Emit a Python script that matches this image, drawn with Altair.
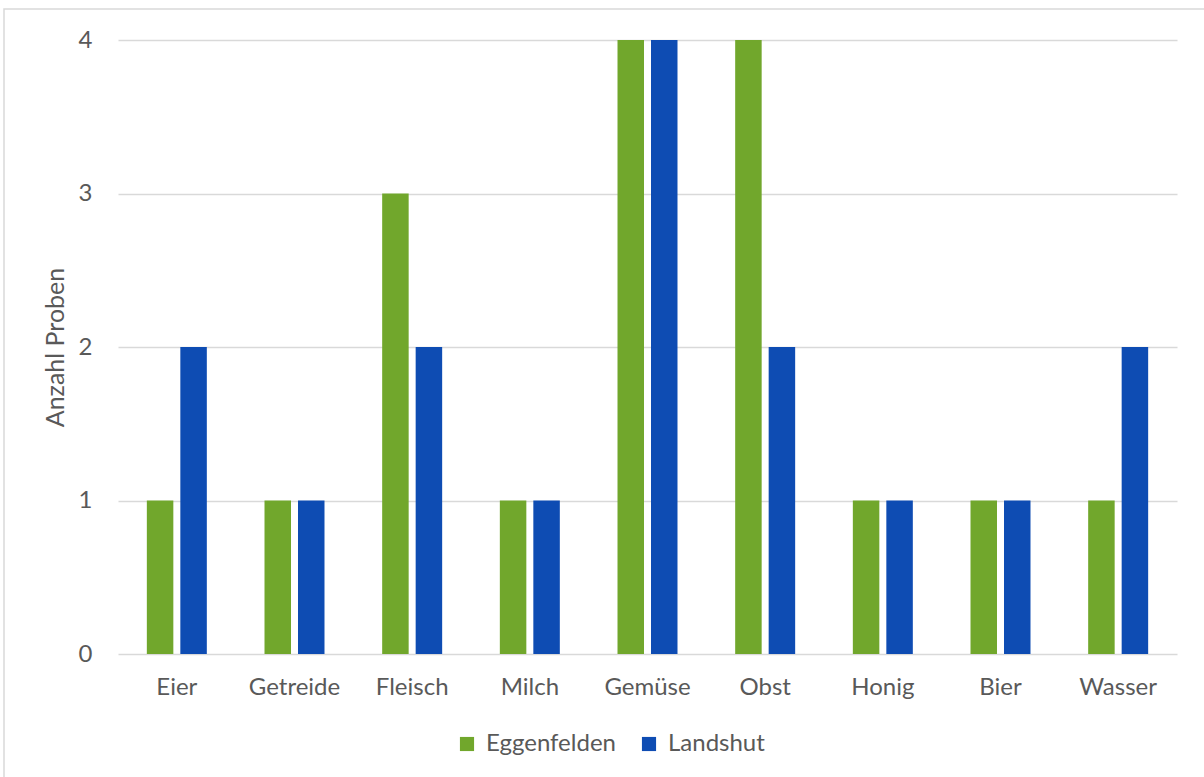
import altair as alt
import pandas as pd

categories = ["Eier", "Getreide", "Fleisch", "Milch", "Gemüse", "Obst", "Honig", "Bier", "Wasser"]
eggenfelden = [1, 1, 3, 1, 4, 4, 1, 1, 1]
landshut = [2, 1, 2, 1, 4, 2, 1, 1, 2]
series = ["Eggenfelden", "Landshut"]
colors = ["#71a72c", "#0e4cb3"]

rows = []
for c, e, l in zip(categories, eggenfelden, landshut):
    rows.append({"Kategorie": c, "Ort": series[0], "Anzahl": e})
    rows.append({"Kategorie": c, "Ort": series[1], "Anzahl": l})
df = pd.DataFrame(rows)

FONT = "Lato"
TXT = "#595959"
FS = 24

bars = alt.Chart(df).mark_bar().encode(
    x=alt.X("Kategorie:N", sort=categories,
            scale=alt.Scale(paddingInner=0, paddingOuter=0),
            axis=alt.Axis(title=None, labelAngle=0, ticks=False, domain=False, grid=False,
                          labelPadding=21, labelFontSize=FS, labelColor=TXT, labelFont=FONT)),
    xOffset=alt.XOffset("Ort:N", sort=series,
                        scale=alt.Scale(paddingInner=0.209, paddingOuter=0.861)),
    y=alt.Y("Anzahl:Q", scale=alt.Scale(domain=[0, 4]),
            axis=alt.Axis(title="Anzahl Proben", values=[0, 1, 2, 3, 4], format="d",
                          ticks=False, domain=False, gridColor="#d9d9d9", gridWidth=1.3,
                          labelPadding=26, labelFontSize=FS, labelColor=TXT, labelFont=FONT,
                          titleFontSize=25, titleColor=TXT, titleFont=FONT,
                          titleFontWeight="normal", titlePadding=10)),
    color=alt.Color("Ort:N", sort=series,
                    scale=alt.Scale(domain=series, range=colors),
                    legend=alt.Legend(title=None, orient="none", direction="horizontal",
                                      legendX=337, legendY=692,
                                      symbolType="square", symbolSize=200,
                                      symbolStrokeWidth=0, labelFontSize=FS,
                                      labelColor=TXT, labelFont=FONT, columnPadding=21,
                                      labelOffset=7)),
)

frame = alt.Chart(pd.DataFrame({"a": [0]})).mark_rect(
    fill=None, stroke="#d9d9d9", strokeWidth=1.5
).encode(
    x=alt.value(-114), x2=alt.value(1120), y=alt.value(-31), y2=alt.value(800)
)

chart = alt.layer(frame, bars).properties(
    width=1059, height=614,
    autosize=alt.AutoSizeParams(type="none"),
    padding={"left": 118, "top": 40, "right": 27, "bottom": 123},
).configure(background="white").configure_view(stroke="transparent", strokeWidth=0)

chart.save("out.html", embed_options={"renderer": "svg", "actions": False})
